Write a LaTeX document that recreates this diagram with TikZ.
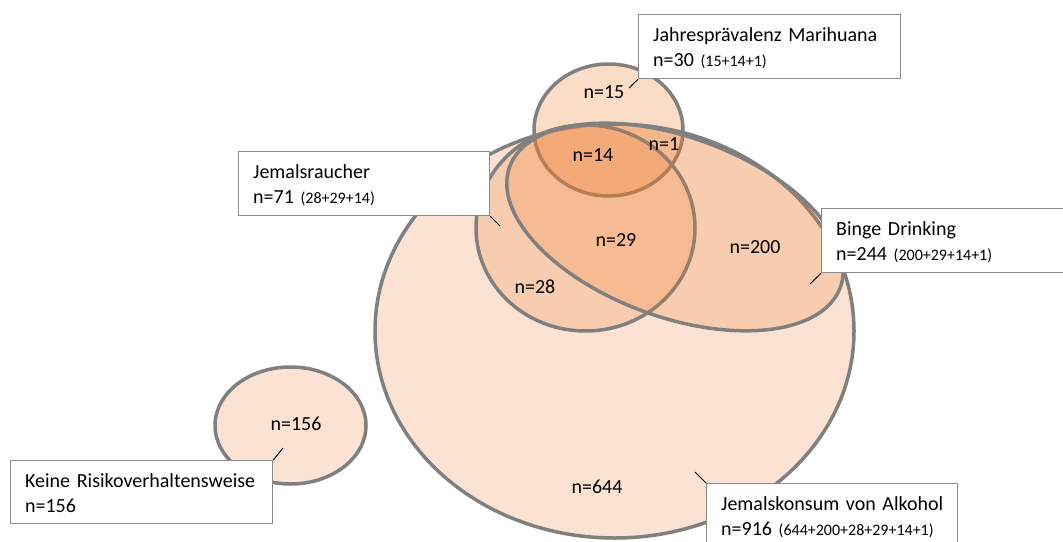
\documentclass[tikz,border=0pt]{standalone}
\usepackage{fontspec}
\setmainfont{Carlito}
\definecolor{setorange}{RGB}{237,125,49}
\definecolor{setline}{RGB}{128,128,128}
\definecolor{boxline}{RGB}{140,140,140}
\newcommand{\partsum}[1]{{\fontsize{16}{25}\selectfont #1}}
% first line sits 27pt below the top edge, last line leaves #1 below its baseline
\newcommand{\topstrut}{\rule{0pt}{27pt}}
\newcommand{\botstrut}[1]{\rule[-#1]{0pt}{#1}}
\begin{document}
\begin{tikzpicture}[x=1pt,y=-1pt,
  setshape/.style={draw=setline, line width=3.5pt, fill=setorange, fill opacity=0.22},
  count/.style={font=\fontsize{20}{24}\selectfont, inner sep=0pt},
  callout/.style={draw=boxline, line width=1.3pt, fill=white, anchor=north west,
    align=left, inner xsep=14.5pt, inner ysep=0pt,
    font=\fontsize{20}{25}\selectfont},
  leader/.style={draw=black, line width=1pt}]
\clip (0,0) rectangle (1063,541);

% sets
\draw[setshape] (290.5,425.5) ellipse [x radius=75.5pt, y radius=58.5pt];
\draw[setshape, fill opacity=0.27] (608.5,130) ellipse [x radius=74.5pt, y radius=66pt];
\draw[setshape] (614.5,331) ellipse [x radius=239.5pt, y radius=207pt];
\draw[setshape] (585.5,228) ellipse [x radius=109.5pt, y radius=103pt];
\draw[setshape, rotate around={-20:(675,227)}] (675,227) ellipse [x radius=176pt, y radius=90pt];

% counts per region
\node[count] (c15) at (604,92) {n=15};
\node[count] (c14) at (593,155) {n=14};
\node[count] (c1) at (664,144) {n=1};
\node[count] (c29) at (616,240) {n=29};
\node[count] (c200) at (755,247) {n=200};
\node[count] (c28) at (535,287) {n=28};
\node[count] (c644) at (597,487) {n=644};
\node[count] (c156) at (296,424) {n=156};

% callouts
\node[callout, text width=233pt] (mbox) at (638,14)
  {\topstrut\mbox{Jahresprävalenz Marihuana}\\\mbox{n=30 \partsum{(15+14+1)}}\botstrut{12pt}};
\node[callout, text width=222pt] (rbox) at (238,151)
  {\topstrut\mbox{Jemalsraucher}\\\mbox{n=71 \partsum{(28+29+14)}}\botstrut{12pt}};
\node[callout, text width=231pt] (bbox) at (821,208)
  {\topstrut\mbox{Binge Drinking}\\\mbox{n=244 \partsum{(200+29+14+1)}}\botstrut{12pt}};
\node[callout, text width=233pt] (kbox) at (10,460)
  {\topstrut\mbox{Keine Risikoverhaltensweise}\\\mbox{n=156}\botstrut{11pt}};
\node[callout, text width=222pt] (abox) at (706,483)
  {\topstrut\mbox{Jemalskonsum von Alkohol}\\\mbox{n=916 \partsum{(644+200+28+29+14+1)}}\botstrut{18pt}};

% leader lines
\coordinate (mpt) at (629,88);
\coordinate (rpt) at (500,226);
\coordinate (bpt) at (810,284);
\coordinate (kpt) at (283,448);
\coordinate (apt) at (695,472);
\draw[leader] (mbox.south west) -- (mpt);
\draw[leader] (rbox.south east) -- (rpt);
\draw[leader] (bbox.south west) -- (bpt);
\draw[leader] (kbox.north east) -- (kpt);
\draw[leader] (abox.north west) -- (apt);
\end{tikzpicture}
\end{document}
